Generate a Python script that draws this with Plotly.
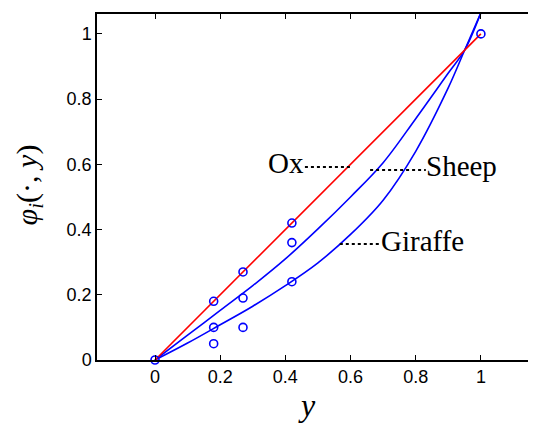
import plotly.graph_objects as go

# ---- data ----
curve_x = [0, 0.1, 0.2, 0.3, 0.4, 0.5, 0.6, 0.7, 0.8, 0.9, 0.95, 1.0]
sheep_y = [0, 0.076, 0.152, 0.228, 0.31, 0.402, 0.50, 0.605, 0.74, 0.88, 0.95, 1.065]
giraffe_y = [0, 0.052, 0.108, 0.165, 0.228, 0.298, 0.385, 0.49, 0.64, 0.835, 0.95, 1.065]
ox_x = [0, 0.18, 0.27, 0.42, 1.0]
ox_y = [0, 0.18, 0.27, 0.42, 1.0]

obs_x = [0, 0.18, 0.27, 0.42, 0.18, 0.27, 0.42, 0.18, 0.27, 0.42, 1.0]
obs_y = [0, 0.18, 0.27, 0.42, 0.10, 0.19, 0.36, 0.05, 0.10, 0.24, 1.0]

tick_vals = [0, 0.2, 0.4, 0.6, 0.8, 1]
tick_text = ["0", "0.2", "0.4", "0.6", "0.8", "1"]

labels = ["Ox", "Sheep", "Giraffe"]
# leader lines: (x0, x1, y)
leader = [(0.46, 0.598, 0.592), (0.66, 0.831, 0.583), (0.567, 0.693, 0.356)]

BLUE = "#0000ff"
RED = "#ff0000"
SERIF = "Liberation Serif"

fig = go.Figure()
fig.add_trace(go.Scatter(x=curve_x, y=sheep_y, mode="lines", line=dict(color=BLUE, width=1.6, shape="spline"), showlegend=False))
fig.add_trace(go.Scatter(x=curve_x, y=giraffe_y, mode="lines", line=dict(color=BLUE, width=1.6, shape="spline"), showlegend=False))
fig.add_trace(go.Scatter(x=ox_x, y=ox_y, mode="lines", line=dict(color=RED, width=1.6), showlegend=False))
fig.add_trace(go.Scatter(x=obs_x, y=obs_y, mode="markers",
                         marker=dict(symbol="circle-open", size=8, color=BLUE, line=dict(width=1.6, color=BLUE)),
                         cliponaxis=False, showlegend=False))

for (x0, x1, yy) in leader:
    fig.add_shape(type="line", x0=x0, x1=x1, y0=yy, y1=yy, xref="x", yref="y",
                  line=dict(color="black", width=2, dash="3px,3px"))

font_lbl = dict(family=SERIF, size=29, color="black")
fig.add_annotation(x=leader[0][0], y=leader[0][2] + 0.012, text=labels[0], xanchor="right", yanchor="middle",
                   showarrow=False, font=font_lbl, xshift=1)
fig.add_annotation(x=leader[1][1], y=leader[1][2] + 0.012, text=labels[1], xanchor="left", yanchor="middle",
                   showarrow=False, font=font_lbl, xshift=-2)
fig.add_annotation(x=leader[2][1], y=leader[2][2] + 0.008, text=labels[2], xanchor="left", yanchor="middle",
                   showarrow=False, font=font_lbl, xshift=-2)

# axis titles
fig.add_annotation(xref="paper", yref="paper", x=0.479, y=-0.13, text="<i>y</i>", showarrow=False,
                   xanchor="center", yanchor="middle", font=dict(family=SERIF, size=32, color="black"))
fig.add_annotation(xref="paper", yref="paper", x=-0.155, y=0.505, text="<i>φ<sub>i</sub></i>(·, <i>y</i>)",
                   showarrow=False, textangle=-90, xanchor="center", yanchor="middle",
                   font=dict(family=SERIF, size=30, color="black"))

axis_common = dict(showgrid=False, zeroline=False, showline=True, linecolor="black", linewidth=1.5,
                   mirror="ticks", ticks="inside", ticklen=5, tickwidth=1.3, tickcolor="black",
                   tickmode="array", tickvals=tick_vals, ticktext=tick_text, automargin=False,
                   tickfont=dict(family="Liberation Sans", size=18, color="black"))

fig.update_xaxes(range=[-0.178, 1.166], **axis_common)
fig.update_yaxes(range=[0, 1.061], **axis_common)

# page body has an 8px default margin, so the figure is sized to fit the window
fig.update_layout(width=528, height=417, margin=dict(l=89, r=1, t=6, b=65, autoexpand=False),
                  plot_bgcolor="white", paper_bgcolor="white")

fig.write_html("out.html")
